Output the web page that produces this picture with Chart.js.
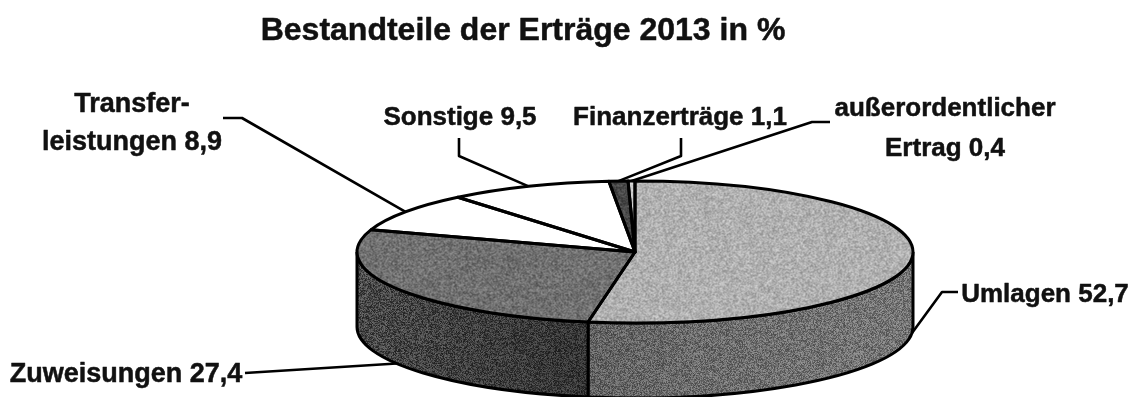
<!DOCTYPE html>
<html lang="de">
<head>
<meta charset="utf-8">
<title>Bestandteile der Erträge 2013</title>
<script src="https://cdn.jsdelivr.net/npm/chart.js@4"></script>
<style>
  html, body { margin: 0; background: #fff; }
  #wrap { width: 1135px; height: 397px; }
</style>
</head>
<body>
<div id="wrap"><canvas id="pie"></canvas></div>
<script>
const categories = ['Umlagen', 'Zuweisungen', 'Transferleistungen', 'Sonstige', 'Finanzerträge', 'außerordentlicher Ertrag'];
const shares = [52.7, 27.4, 8.9, 9.5, 1.1, 0.4];

// label wording, the value gets appended to the last line
const labelLines = [
  ['Umlagen'],
  ['Zuweisungen'],
  ['Transfer-', 'leistungen'],
  ['Sonstige'],
  ['Finanzerträge'],
  ['außerordentlicher', 'Ertrag']
];

// grey level and grain strength of each slice
const topGreys = [176, 112, 255, 255, 70, 205];
const wallGreys = [108, 72];
const grain = [38, 38, 0, 0, 34, 26];

// centre x, baseline of each label line, font size
const labelSpots = [
  [[1045, 302]],
  [[126, 382]],
  [[132, 112], [132, 150]],
  [[460, 125]],
  [[680, 125]],
  [[945, 116], [945, 156]]
];
const labelSizes = [26, 27, 27, 26, 26, 26];

// fixed bends of the leader lines, the last point comes from the slice itself
const leaderBends = [
  [[958, 292], [942, 292]],
  [[245, 373]],
  [[223, 118], [242, 118]],
  [[459, 138], [459, 156]],
  [[681, 138], [681, 156]],
  [[830, 122], [812, 122]]
];

const titleText = 'Bestandteile der Erträge 2013 in %';

const pieRx = 278;
const pieRy = 71;
const pieDepth = 75;
const squashX = pieRx / 145;
const squashY = pieRy / 145;

// small deterministic noise tile for the printed halftone look
function grainTile(grey, spread, stretched) {
  const tile = document.createElement('canvas');
  tile.width = tile.height = 160;
  const tctx = tile.getContext('2d');
  const img = tctx.createImageData(160, 160);
  let seed = grey * 7919 + 13;
  for (let i = 0; i < img.data.length; i += 4) {
    seed = (seed * 1664525 + 1013904223) % 4294967296;
    const v = grey + ((seed / 4294967296) - 0.5) * 2 * spread;
    img.data[i] = img.data[i + 1] = img.data[i + 2] = v;
    img.data[i + 3] = 255;
  }
  tctx.putImageData(img, 0, 0);
  const pattern = tctx.createPattern(tile, 'repeat');
  if (stretched) pattern.setTransform(new DOMMatrix([1 / squashX, 0, 0, 1 / squashY, 0, 0]));
  return pattern;
}

const topFills = topGreys.map((g, i) => grain[i] ? grainTile(g, grain[i], true) : 'rgb(' + g + ',' + g + ',' + g + ')');
const wallFills = wallGreys.map(g => grainTile(g, 40, false));

function arcCenter(chart) {
  const first = chart.getDatasetMeta(0).data[0];
  return { x: first.x, y: first.y };
}

const squashedPie = {
  id: 'squashedPie',
  beforeDatasetsDraw(chart) {
    const ctx = chart.ctx;
    const { x, y } = arcCenter(chart);
    const arcs = chart.getDatasetMeta(0).data;

    // side wall, only the front half of the disc shows it
    arcs.forEach((arc, i) => {
      const from = Math.max(arc.startAngle, 0);
      const to = Math.min(arc.endAngle, Math.PI);
      if (to <= from) return;
      ctx.beginPath();
      ctx.ellipse(x, y, pieRx, pieRy, 0, from, to);
      ctx.ellipse(x, y + pieDepth, pieRx, pieRy, 0, to, from, true);
      ctx.closePath();
      ctx.fillStyle = wallFills[i];
      ctx.fill();
      // shading gets darker towards the seam between the two walls
      const x0 = x + pieRx * Math.cos(from);
      const x1 = x + pieRx * Math.cos(to);
      const shade = ctx.createLinearGradient(x0, 0, x1, 0);
      shade.addColorStop(0, i ? 'rgba(0,0,0,0.28)' : 'rgba(255,255,255,0.06)');
      shade.addColorStop(1, i ? 'rgba(0,0,0,0)' : 'rgba(0,0,0,0.1)');
      ctx.fillStyle = shade;
      ctx.fill();
      ctx.strokeStyle = '#000';
      ctx.lineWidth = 3;
      ctx.stroke();
    });

    ctx.save();
    ctx.translate(x, y);
    ctx.scale(squashX, squashY);
    ctx.translate(-x, -y);
  },
  afterDatasetsDraw(chart) {
    const ctx = chart.ctx;
    ctx.restore();
    const { x, y } = arcCenter(chart);
    const arcs = chart.getDatasetMeta(0).data;

    ctx.strokeStyle = '#000';
    ctx.lineWidth = 3;
    ctx.lineJoin = 'round';
    arcs.forEach(arc => {
      ctx.beginPath();
      ctx.moveTo(x, y);
      ctx.ellipse(x, y, pieRx, pieRy, 0, arc.startAngle, arc.endAngle);
      ctx.closePath();
      ctx.stroke();
    });

    // leaders run to the middle of each slice's rim
    arcs.forEach((arc, i) => {
      const mid = (arc.startAngle + arc.endAngle) / 2;
      const endX = x + pieRx * Math.cos(mid);
      let endY = y + pieRy * Math.sin(mid);
      if (Math.sin(mid) > 0) endY += pieDepth;
      ctx.beginPath();
      leaderBends[i].forEach((p, n) => n ? ctx.lineTo(p[0], p[1]) : ctx.moveTo(p[0], p[1]));
      ctx.lineTo(endX, endY);
      ctx.lineWidth = 2.6;
      ctx.stroke();
    });

    ctx.fillStyle = '#111';
    ctx.strokeStyle = '#111';
    ctx.lineWidth = 0.5;
    ctx.textBaseline = 'alphabetic';
    ctx.textAlign = 'center';
    labelLines.forEach((lines, i) => {
      ctx.font = 'bold ' + labelSizes[i] + 'px "Liberation Sans", Arial, sans-serif';
      lines.forEach((line, n) => {
        const last = n === lines.length - 1;
        const text = last ? line + ' ' + String(shares[i]).replace('.', ',') : line;
        const [lx, ly] = labelSpots[i][n];
        ctx.fillText(text, lx, ly);
        ctx.strokeText(text, lx, ly);
      });
    });

    ctx.font = 'bold 32px "Liberation Sans", Arial, sans-serif';
    ctx.fillText(titleText, 523, 40);
    ctx.strokeText(titleText, 523, 40);
  }
};

new Chart(document.getElementById('pie'), {
  type: 'pie',
  data: {
    labels: categories,
    datasets: [{
      data: shares,
      backgroundColor: topFills,
      borderWidth: 0,
      clip: false
    }]
  },
  options: {
    responsive: true,
    maintainAspectRatio: false,
    animation: false,
    rotation: 0,
    // puts the disc centre at 635/252 before it gets squashed
    layout: { padding: { left: 490, right: 355, top: 107, bottom: 0 } },
    plugins: {
      legend: { display: false },
      tooltip: { enabled: false }
    }
  },
  plugins: [squashedPie]
});
</script>
</body>
</html>
